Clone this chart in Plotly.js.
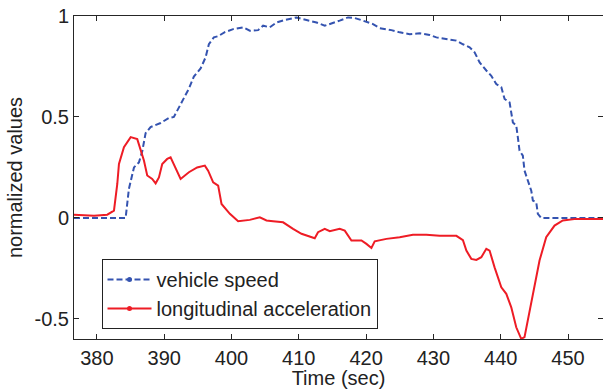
<!DOCTYPE html>
<html>
<head>
<meta charset="utf-8">
<script src="https://cdn.plot.ly/plotly-3.0.1.min.js"></script>
<style>html,body{margin:0;padding:0;background:#fff;}#chart{width:603px;height:389px;}</style>
</head>
<body>
<div id="chart"></div>
<script>
var speedTime = [376.6, 384.27, 384.76, 385.51, 386.25, 386.74, 387.24, 387.98, 389.47, 390.70, 391.44, 391.93, 392.68, 393.67, 394.41, 395.41, 396.15, 396.64, 397.38, 398.02, 399.01, 400.25, 401.73, 402.72, 403.96, 404.70, 405.69, 406.69, 407.92, 409.66, 411.14, 412.63, 413.86, 415.09, 416.08, 417.32, 418.31, 419.54, 421.03, 422.02, 423.76, 424.99, 426.47, 427.96, 429.44, 430.44, 431.92, 433.41, 434.39, 435.38, 436.12, 436.87, 437.86, 438.60, 439.34, 440.09, 440.58, 441.32, 441.81, 442.31, 442.55, 442.80, 443.29, 443.54, 444.03, 444.54, 444.78, 445.28, 445.52, 446.02, 455.2];
var speedValues = [0, 0, 0.144, 0.25, 0.275, 0.33, 0.42, 0.45, 0.47, 0.495, 0.5, 0.53, 0.58, 0.64, 0.70, 0.74, 0.795, 0.86, 0.894, 0.90, 0.92, 0.935, 0.944, 0.927, 0.93, 0.952, 0.944, 0.968, 0.98, 0.993, 0.98, 0.968, 0.952, 0.968, 0.977, 0.993, 0.99, 0.977, 0.96, 0.94, 0.93, 0.919, 0.91, 0.914, 0.906, 0.894, 0.886, 0.878, 0.86, 0.845, 0.82, 0.77, 0.73, 0.704, 0.663, 0.647, 0.589, 0.572, 0.473, 0.457, 0.399, 0.333, 0.308, 0.234, 0.185, 0.135, 0.086, 0.077, 0.02, 0, 0];

var accelTime = [376.6, 379.57, 381.54, 382.54, 383.03, 383.28, 384.02, 385.02, 386.0, 386.5, 386.99, 387.48, 388.22, 388.73, 389.22, 389.71, 390.45, 390.95, 391.44, 392.44, 393.67, 394.90, 396.04, 396.53, 397.28, 398.02, 398.52, 399.76, 400.99, 402.72, 404.21, 405.20, 406.18, 407.67, 409.15, 410.40, 412.37, 412.86, 413.86, 414.60, 416.08, 416.83, 417.82, 419.31, 420.05, 420.79, 421.28, 423.02, 424.99, 426.96, 428.95, 430.93, 433.41, 434.39, 434.90, 435.63, 436.38, 437.12, 437.86, 438.35, 439.09, 440.09, 440.83, 441.57, 442.31, 443.05, 443.54, 444.29, 445.03, 445.77, 446.76, 448.0, 449.23, 451.22, 455.2];
var accelValues = [0.016, 0.011, 0.016, 0.036, 0.168, 0.267, 0.35, 0.40, 0.39, 0.34, 0.284, 0.21, 0.193, 0.171, 0.20, 0.267, 0.292, 0.30, 0.267, 0.193, 0.226, 0.25, 0.259, 0.234, 0.176, 0.16, 0.069, 0.02, -0.017, -0.01, 0.003, -0.013, -0.017, -0.022, -0.054, -0.079, -0.101, -0.071, -0.054, -0.066, -0.054, -0.063, -0.112, -0.112, -0.129, -0.149, -0.116, -0.104, -0.096, -0.084, -0.084, -0.088, -0.089, -0.11, -0.162, -0.203, -0.208, -0.195, -0.153, -0.162, -0.245, -0.344, -0.376, -0.443, -0.542, -0.599, -0.591, -0.459, -0.344, -0.211, -0.096, -0.038, -0.013, -0.005, -0.005];

var seriesNames = ['vehicle speed', 'longitudinal acceleration'];
var xTicks = [380, 390, 400, 410, 420, 430, 440, 450];
var yTicks = [-0.5, 0, 0.5, 1];
var yTickText = ['-0.5', '0', '0.5', '1'];

var blue = '#3453b0';
var red = '#ee1c25';

var traces = [
  {x: speedTime, y: speedValues, mode: 'lines', showlegend: false,
   line: {color: blue, width: 2, dash: '6px,3px'}},
  {x: accelTime, y: accelValues, mode: 'lines', showlegend: false,
   line: {color: red, width: 2}},
  {x: [null], y: [null], name: seriesNames[0], mode: 'lines+markers',
   line: {color: blue, width: 2, dash: '6px,3px'}, marker: {color: blue, size: 5}},
  {x: [null], y: [null], name: seriesNames[1], mode: 'lines+markers',
   line: {color: red, width: 2}, marker: {color: red, size: 5}}
];

var axisCommon = {
  showgrid: false, zeroline: false, showline: true, mirror: 'ticks',
  linecolor: '#262626', linewidth: 1, ticks: 'inside', ticklen: 5,
  tickcolor: '#262626', tickwidth: 1,
  tickfont: {family: 'Liberation Sans, Arial, sans-serif', size: 20, color: '#222'}
};

var layout = {
  width: 603, height: 389,
  margin: {l: 74, r: 0, t: 16, b: 50},
  paper_bgcolor: '#fff', plot_bgcolor: '#fff',
  font: {family: 'Liberation Sans, Arial, sans-serif', size: 20, color: '#222'},
  xaxis: Object.assign({}, axisCommon, {
    range: [376.6, 455.2], tickvals: xTicks, ticklabelstandoff: 1,
    title: {text: 'Time (sec)', standoff: 0, font: {size: 20, color: '#222'}}
  }),
  yaxis: Object.assign({}, axisCommon, {
    range: [-0.6, 1.0], tickvals: yTicks, ticktext: yTickText, ticklabelstandoff: 0,
    title: {text: 'normalized values', standoff: 6, font: {size: 20, color: '#222'}}
  }),
  legend: {
    x: 0.052, y: 0.248, xanchor: 'left', yanchor: 'top',
    bgcolor: '#fff', bordercolor: '#222', borderwidth: 1, itemwidth: 44,
    font: {size: 20, color: '#222'}, tracegroupgap: 0
  },
  showlegend: true
};

Plotly.newPlot('chart', traces, layout, {displayModeBar: false, staticPlot: true});
</script>
</body>
</html>
